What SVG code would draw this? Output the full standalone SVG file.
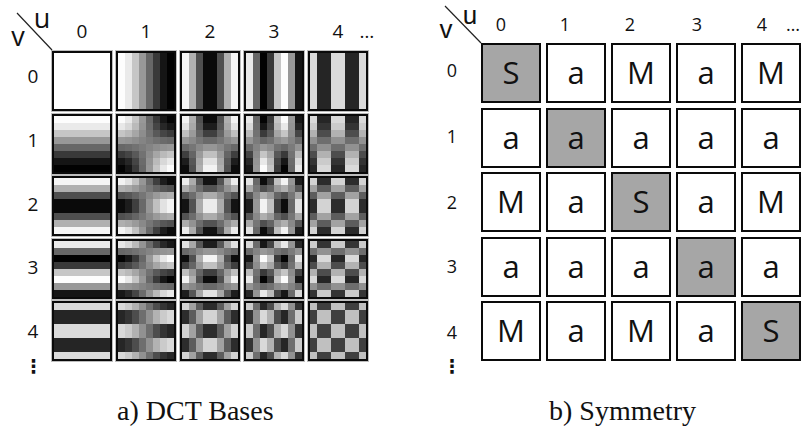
<svg xmlns="http://www.w3.org/2000/svg" xmlns:xlink="http://www.w3.org/1999/xlink" width="804" height="432" viewBox="0 0 804 432">
  <style>
    .lbl { font-family: "Open Sans", "Liberation Sans", sans-serif; fill: #111; }
    .hdr { font-size: 19px; text-anchor: middle; }
    .hdr-r { font-size: 18px; text-anchor: middle; }
    .axis { font-size: 27px; text-anchor: middle; }
    .axis-r { font-family: "Liberation Sans", "Open Sans", sans-serif; font-size: 26px; text-anchor: middle; fill: #111; }
    .dots { font-family: "DejaVu Sans", sans-serif; font-size: 19px; font-weight: bold; text-anchor: middle; fill: #111; }
    .cap { font-family: "Liberation Serif", "Times New Roman", serif; font-size: 28px; fill: #111; }
    .frame { fill: none; stroke: #0a0a0a; stroke-width: 2; }
    .halo { fill: none; stroke: #bdbdbd; stroke-width: 1; }
    .cell { fill: #ffffff; stroke: #0a0a0a; stroke-width: 2; }
    .cell.diag { fill: #a6a6a6; }
    .sym { font-family: "Open Sans", "Liberation Sans", sans-serif; font-size: 31px; text-anchor: middle; fill: #111; }
    .divider { stroke: #222; stroke-width: 1.2; }
    .scr { mix-blend-mode: screen; }
  </style>
  <defs>
    <!-- gray = 0.5 + 0.5*cos_u*cos_v, with cos_u carried in red and cos_v in green as (1+c)/2 -->
    <filter id="prod" x="0" y="0" width="1" height="1" color-interpolation-filters="sRGB">
      <feColorMatrix in="SourceGraphic" type="matrix" values="1 0 0 0 0  1 0 0 0 0  1 0 0 0 0  0 0 0 0 1" result="hu"/>
      <feColorMatrix in="SourceGraphic" type="matrix" values="0 1 0 0 0  0 1 0 0 0  0 1 0 0 0  0 0 0 0 1" result="hv"/>
      <feComposite in="hu" in2="hv" operator="arithmetic" k1="2" k2="-1" k3="-1" k4="1"/>
    </filter>
    <!-- horizontal frequency u: vertical stripes in the red channel (8x8 unit grid) -->
    <g id="cu0"><rect x="0" y="0" width="8" height="8" fill="rgb(255,0,0)"/></g>
    <g id="cu1">
      <rect x="0" y="0" width="1" height="8" fill="rgb(253,0,0)"/>
      <rect x="1" y="0" width="1" height="8" fill="rgb(234,0,0)"/>
      <rect x="2" y="0" width="1" height="8" fill="rgb(198,0,0)"/>
      <rect x="3" y="0" width="1" height="8" fill="rgb(152,0,0)"/>
      <rect x="4" y="0" width="1" height="8" fill="rgb(103,0,0)"/>
      <rect x="5" y="0" width="1" height="8" fill="rgb(57,0,0)"/>
      <rect x="6" y="0" width="1" height="8" fill="rgb(21,0,0)"/>
      <rect x="7" y="0" width="1" height="8" fill="rgb(2,0,0)"/>
    </g>
    <g id="cu2">
      <rect x="0" y="0" width="1" height="8" fill="rgb(245,0,0)"/>
      <rect x="1" y="0" width="1" height="8" fill="rgb(176,0,0)"/>
      <rect x="2" y="0" width="1" height="8" fill="rgb(79,0,0)"/>
      <rect x="3" y="0" width="1" height="8" fill="rgb(10,0,0)"/>
      <rect x="4" y="0" width="1" height="8" fill="rgb(10,0,0)"/>
      <rect x="5" y="0" width="1" height="8" fill="rgb(79,0,0)"/>
      <rect x="6" y="0" width="1" height="8" fill="rgb(176,0,0)"/>
      <rect x="7" y="0" width="1" height="8" fill="rgb(245,0,0)"/>
    </g>
    <g id="cu3">
      <rect x="0" y="0" width="1" height="8" fill="rgb(234,0,0)"/>
      <rect x="1" y="0" width="1" height="8" fill="rgb(103,0,0)"/>
      <rect x="2" y="0" width="1" height="8" fill="rgb(2,0,0)"/>
      <rect x="3" y="0" width="1" height="8" fill="rgb(57,0,0)"/>
      <rect x="4" y="0" width="1" height="8" fill="rgb(198,0,0)"/>
      <rect x="5" y="0" width="1" height="8" fill="rgb(253,0,0)"/>
      <rect x="6" y="0" width="1" height="8" fill="rgb(152,0,0)"/>
      <rect x="7" y="0" width="1" height="8" fill="rgb(21,0,0)"/>
    </g>
    <g id="cu4">
      <rect x="0" y="0" width="1" height="8" fill="rgb(218,0,0)"/>
      <rect x="1" y="0" width="1" height="8" fill="rgb(37,0,0)"/>
      <rect x="2" y="0" width="1" height="8" fill="rgb(37,0,0)"/>
      <rect x="3" y="0" width="1" height="8" fill="rgb(218,0,0)"/>
      <rect x="4" y="0" width="1" height="8" fill="rgb(218,0,0)"/>
      <rect x="5" y="0" width="1" height="8" fill="rgb(37,0,0)"/>
      <rect x="6" y="0" width="1" height="8" fill="rgb(37,0,0)"/>
      <rect x="7" y="0" width="1" height="8" fill="rgb(218,0,0)"/>
    </g>
    <!-- vertical frequency v: horizontal stripes in the green channel -->
    <g id="cv0"><rect x="0" y="0" width="8" height="8" fill="rgb(0,255,0)"/></g>
    <g id="cv1">
      <rect x="0" y="0" width="8" height="1" fill="rgb(0,253,0)"/>
      <rect x="0" y="1" width="8" height="1" fill="rgb(0,234,0)"/>
      <rect x="0" y="2" width="8" height="1" fill="rgb(0,198,0)"/>
      <rect x="0" y="3" width="8" height="1" fill="rgb(0,152,0)"/>
      <rect x="0" y="4" width="8" height="1" fill="rgb(0,103,0)"/>
      <rect x="0" y="5" width="8" height="1" fill="rgb(0,57,0)"/>
      <rect x="0" y="6" width="8" height="1" fill="rgb(0,21,0)"/>
      <rect x="0" y="7" width="8" height="1" fill="rgb(0,2,0)"/>
    </g>
    <g id="cv2">
      <rect x="0" y="0" width="8" height="1" fill="rgb(0,245,0)"/>
      <rect x="0" y="1" width="8" height="1" fill="rgb(0,176,0)"/>
      <rect x="0" y="2" width="8" height="1" fill="rgb(0,79,0)"/>
      <rect x="0" y="3" width="8" height="1" fill="rgb(0,10,0)"/>
      <rect x="0" y="4" width="8" height="1" fill="rgb(0,10,0)"/>
      <rect x="0" y="5" width="8" height="1" fill="rgb(0,79,0)"/>
      <rect x="0" y="6" width="8" height="1" fill="rgb(0,176,0)"/>
      <rect x="0" y="7" width="8" height="1" fill="rgb(0,245,0)"/>
    </g>
    <g id="cv3">
      <rect x="0" y="0" width="8" height="1" fill="rgb(0,234,0)"/>
      <rect x="0" y="1" width="8" height="1" fill="rgb(0,103,0)"/>
      <rect x="0" y="2" width="8" height="1" fill="rgb(0,2,0)"/>
      <rect x="0" y="3" width="8" height="1" fill="rgb(0,57,0)"/>
      <rect x="0" y="4" width="8" height="1" fill="rgb(0,198,0)"/>
      <rect x="0" y="5" width="8" height="1" fill="rgb(0,253,0)"/>
      <rect x="0" y="6" width="8" height="1" fill="rgb(0,152,0)"/>
      <rect x="0" y="7" width="8" height="1" fill="rgb(0,21,0)"/>
    </g>
    <g id="cv4">
      <rect x="0" y="0" width="8" height="1" fill="rgb(0,218,0)"/>
      <rect x="0" y="1" width="8" height="1" fill="rgb(0,37,0)"/>
      <rect x="0" y="2" width="8" height="1" fill="rgb(0,37,0)"/>
      <rect x="0" y="3" width="8" height="1" fill="rgb(0,218,0)"/>
      <rect x="0" y="4" width="8" height="1" fill="rgb(0,218,0)"/>
      <rect x="0" y="5" width="8" height="1" fill="rgb(0,37,0)"/>
      <rect x="0" y="6" width="8" height="1" fill="rgb(0,37,0)"/>
      <rect x="0" y="7" width="8" height="1" fill="rgb(0,218,0)"/>
    </g>
    <!-- frame drawn around each 56x56 basis image -->
    <g id="bframe">
      <rect class="halo" x="-0.5" y="-0.5" width="61" height="61"/>
      <rect class="frame" x="1" y="1" width="58" height="58"/>
    </g>
  </defs>

  <!-- ===== a) DCT bases ===== -->
  <g id="dct-axes">
    <text class="lbl axis" x="18" y="46">v</text>
    <text class="lbl axis" x="42" y="28">u</text>
    <text class="lbl hdr" x="82" y="38">0</text>
    <text class="lbl hdr" x="146" y="38">1</text>
    <text class="lbl hdr" x="210" y="38">2</text>
    <text class="lbl hdr" x="274" y="38">3</text>
    <text class="lbl hdr" x="338" y="38">4</text>
    <text class="lbl hdr" x="367" y="38">…</text>
    <text class="lbl hdr" x="33" y="83">0</text>
    <text class="lbl hdr" x="33" y="147">1</text>
    <text class="lbl hdr" x="33" y="211">2</text>
    <text class="lbl hdr" x="33" y="274">3</text>
    <text class="lbl hdr" x="33" y="338">4</text>
    <text class="dots" x="33.5" y="373">⋮</text>
  </g>

  <!-- row v=0 -->
  <g id="base-v0-u0" transform="translate(52,51)"><g transform="translate(2,2) scale(7)" filter="url(#prod)"><use xlink:href="#cu0"/><g class="scr"><use xlink:href="#cv0"/></g></g><use xlink:href="#bframe"/></g>
  <g id="base-v0-u1" transform="translate(116,51)"><g transform="translate(2,2) scale(7)" filter="url(#prod)"><use xlink:href="#cu1"/><g class="scr"><use xlink:href="#cv0"/></g></g><use xlink:href="#bframe"/></g>
  <g id="base-v0-u2" transform="translate(180,51)"><g transform="translate(2,2) scale(7)" filter="url(#prod)"><use xlink:href="#cu2"/><g class="scr"><use xlink:href="#cv0"/></g></g><use xlink:href="#bframe"/></g>
  <g id="base-v0-u3" transform="translate(244,51)"><g transform="translate(2,2) scale(7)" filter="url(#prod)"><use xlink:href="#cu3"/><g class="scr"><use xlink:href="#cv0"/></g></g><use xlink:href="#bframe"/></g>
  <g id="base-v0-u4" transform="translate(308,51)"><g transform="translate(2,2) scale(7)" filter="url(#prod)"><use xlink:href="#cu4"/><g class="scr"><use xlink:href="#cv0"/></g></g><use xlink:href="#bframe"/></g>
  <!-- row v=1 -->
  <g id="base-v1-u0" transform="translate(52,114)"><g transform="translate(2,2) scale(7)" filter="url(#prod)"><use xlink:href="#cu0"/><g class="scr"><use xlink:href="#cv1"/></g></g><use xlink:href="#bframe"/></g>
  <g id="base-v1-u1" transform="translate(116,114)"><g transform="translate(2,2) scale(7)" filter="url(#prod)"><use xlink:href="#cu1"/><g class="scr"><use xlink:href="#cv1"/></g></g><use xlink:href="#bframe"/></g>
  <g id="base-v1-u2" transform="translate(180,114)"><g transform="translate(2,2) scale(7)" filter="url(#prod)"><use xlink:href="#cu2"/><g class="scr"><use xlink:href="#cv1"/></g></g><use xlink:href="#bframe"/></g>
  <g id="base-v1-u3" transform="translate(244,114)"><g transform="translate(2,2) scale(7)" filter="url(#prod)"><use xlink:href="#cu3"/><g class="scr"><use xlink:href="#cv1"/></g></g><use xlink:href="#bframe"/></g>
  <g id="base-v1-u4" transform="translate(308,114)"><g transform="translate(2,2) scale(7)" filter="url(#prod)"><use xlink:href="#cu4"/><g class="scr"><use xlink:href="#cv1"/></g></g><use xlink:href="#bframe"/></g>
  <!-- row v=2 -->
  <g id="base-v2-u0" transform="translate(52,176)"><g transform="translate(2,2) scale(7)" filter="url(#prod)"><use xlink:href="#cu0"/><g class="scr"><use xlink:href="#cv2"/></g></g><use xlink:href="#bframe"/></g>
  <g id="base-v2-u1" transform="translate(116,176)"><g transform="translate(2,2) scale(7)" filter="url(#prod)"><use xlink:href="#cu1"/><g class="scr"><use xlink:href="#cv2"/></g></g><use xlink:href="#bframe"/></g>
  <g id="base-v2-u2" transform="translate(180,176)"><g transform="translate(2,2) scale(7)" filter="url(#prod)"><use xlink:href="#cu2"/><g class="scr"><use xlink:href="#cv2"/></g></g><use xlink:href="#bframe"/></g>
  <g id="base-v2-u3" transform="translate(244,176)"><g transform="translate(2,2) scale(7)" filter="url(#prod)"><use xlink:href="#cu3"/><g class="scr"><use xlink:href="#cv2"/></g></g><use xlink:href="#bframe"/></g>
  <g id="base-v2-u4" transform="translate(308,176)"><g transform="translate(2,2) scale(7)" filter="url(#prod)"><use xlink:href="#cu4"/><g class="scr"><use xlink:href="#cv2"/></g></g><use xlink:href="#bframe"/></g>
  <!-- row v=3 -->
  <g id="base-v3-u0" transform="translate(52,239)"><g transform="translate(2,2) scale(7)" filter="url(#prod)"><use xlink:href="#cu0"/><g class="scr"><use xlink:href="#cv3"/></g></g><use xlink:href="#bframe"/></g>
  <g id="base-v3-u1" transform="translate(116,239)"><g transform="translate(2,2) scale(7)" filter="url(#prod)"><use xlink:href="#cu1"/><g class="scr"><use xlink:href="#cv3"/></g></g><use xlink:href="#bframe"/></g>
  <g id="base-v3-u2" transform="translate(180,239)"><g transform="translate(2,2) scale(7)" filter="url(#prod)"><use xlink:href="#cu2"/><g class="scr"><use xlink:href="#cv3"/></g></g><use xlink:href="#bframe"/></g>
  <g id="base-v3-u3" transform="translate(244,239)"><g transform="translate(2,2) scale(7)" filter="url(#prod)"><use xlink:href="#cu3"/><g class="scr"><use xlink:href="#cv3"/></g></g><use xlink:href="#bframe"/></g>
  <g id="base-v3-u4" transform="translate(308,239)"><g transform="translate(2,2) scale(7)" filter="url(#prod)"><use xlink:href="#cu4"/><g class="scr"><use xlink:href="#cv3"/></g></g><use xlink:href="#bframe"/></g>
  <!-- row v=4 -->
  <g id="base-v4-u0" transform="translate(52,301)"><g transform="translate(2,2) scale(7)" filter="url(#prod)"><use xlink:href="#cu0"/><g class="scr"><use xlink:href="#cv4"/></g></g><use xlink:href="#bframe"/></g>
  <g id="base-v4-u1" transform="translate(116,301)"><g transform="translate(2,2) scale(7)" filter="url(#prod)"><use xlink:href="#cu1"/><g class="scr"><use xlink:href="#cv4"/></g></g><use xlink:href="#bframe"/></g>
  <g id="base-v4-u2" transform="translate(180,301)"><g transform="translate(2,2) scale(7)" filter="url(#prod)"><use xlink:href="#cu2"/><g class="scr"><use xlink:href="#cv4"/></g></g><use xlink:href="#bframe"/></g>
  <g id="base-v4-u3" transform="translate(244,301)"><g transform="translate(2,2) scale(7)" filter="url(#prod)"><use xlink:href="#cu3"/><g class="scr"><use xlink:href="#cv4"/></g></g><use xlink:href="#bframe"/></g>
  <g id="base-v4-u4" transform="translate(308,301)"><g transform="translate(2,2) scale(7)" filter="url(#prod)"><use xlink:href="#cu4"/><g class="scr"><use xlink:href="#cv4"/></g></g><use xlink:href="#bframe"/></g>

  <!-- ===== b) Symmetry ===== -->
  <g id="sym-axes">
    <text class="axis-r" x="446" y="38">v</text>
    <text class="axis-r" x="470" y="24">u</text>
    <text class="lbl hdr-r" x="501" y="31">0</text>
    <text class="lbl hdr-r" x="565" y="31">1</text>
    <text class="lbl hdr-r" x="630" y="31">2</text>
    <text class="lbl hdr-r" x="697" y="31">3</text>
    <text class="lbl hdr-r" x="762" y="31">4</text>
    <text class="lbl hdr-r" x="793" y="31">…</text>
    <text class="lbl hdr-r" x="452" y="77">0</text>
    <text class="lbl hdr-r" x="452" y="143">1</text>
    <text class="lbl hdr-r" x="452" y="209">2</text>
    <text class="lbl hdr-r" x="452" y="273">3</text>
    <text class="lbl hdr-r" x="452" y="339">4</text>
    <text class="dots" x="452" y="373">⋮</text>
  </g>

  <!-- row 0 -->
  <g id="sym-v0-u0"><rect class="cell diag" x="482" y="44" width="58" height="58"/><text class="sym" x="511" y="84">S</text></g>
  <g id="sym-v0-u1"><rect class="cell" x="547" y="44" width="58" height="58"/><text class="sym" x="576" y="84">a</text></g>
  <g id="sym-v0-u2"><rect class="cell" x="612" y="44" width="58" height="58"/><text class="sym" x="641" y="84">M</text></g>
  <g id="sym-v0-u3"><rect class="cell" x="677" y="44" width="58" height="58"/><text class="sym" x="706" y="84">a</text></g>
  <g id="sym-v0-u4"><rect class="cell" x="742" y="44" width="58" height="58"/><text class="sym" x="771" y="84">M</text></g>
  <!-- row 1 -->
  <g id="sym-v1-u0"><rect class="cell" x="482" y="109" width="58" height="58"/><text class="sym" x="511" y="149">a</text></g>
  <g id="sym-v1-u1"><rect class="cell diag" x="547" y="109" width="58" height="58"/><text class="sym" x="576" y="149">a</text></g>
  <g id="sym-v1-u2"><rect class="cell" x="612" y="109" width="58" height="58"/><text class="sym" x="641" y="149">a</text></g>
  <g id="sym-v1-u3"><rect class="cell" x="677" y="109" width="58" height="58"/><text class="sym" x="706" y="149">a</text></g>
  <g id="sym-v1-u4"><rect class="cell" x="742" y="109" width="58" height="58"/><text class="sym" x="771" y="149">a</text></g>
  <!-- row 2 -->
  <g id="sym-v2-u0"><rect class="cell" x="482" y="173" width="58" height="58"/><text class="sym" x="511" y="213">M</text></g>
  <g id="sym-v2-u1"><rect class="cell" x="547" y="173" width="58" height="58"/><text class="sym" x="576" y="213">a</text></g>
  <g id="sym-v2-u2"><rect class="cell diag" x="612" y="173" width="58" height="58"/><text class="sym" x="641" y="213">S</text></g>
  <g id="sym-v2-u3"><rect class="cell" x="677" y="173" width="58" height="58"/><text class="sym" x="706" y="213">a</text></g>
  <g id="sym-v2-u4"><rect class="cell" x="742" y="173" width="58" height="58"/><text class="sym" x="771" y="213">M</text></g>
  <!-- row 3 -->
  <g id="sym-v3-u0"><rect class="cell" x="482" y="238" width="58" height="58"/><text class="sym" x="511" y="278">a</text></g>
  <g id="sym-v3-u1"><rect class="cell" x="547" y="238" width="58" height="58"/><text class="sym" x="576" y="278">a</text></g>
  <g id="sym-v3-u2"><rect class="cell" x="612" y="238" width="58" height="58"/><text class="sym" x="641" y="278">a</text></g>
  <g id="sym-v3-u3"><rect class="cell diag" x="677" y="238" width="58" height="58"/><text class="sym" x="706" y="278">a</text></g>
  <g id="sym-v3-u4"><rect class="cell" x="742" y="238" width="58" height="58"/><text class="sym" x="771" y="278">a</text></g>
  <!-- row 4 -->
  <g id="sym-v4-u0"><rect class="cell" x="482" y="302" width="58" height="58"/><text class="sym" x="511" y="342">M</text></g>
  <g id="sym-v4-u1"><rect class="cell" x="547" y="302" width="58" height="58"/><text class="sym" x="576" y="342">a</text></g>
  <g id="sym-v4-u2"><rect class="cell" x="612" y="302" width="58" height="58"/><text class="sym" x="641" y="342">M</text></g>
  <g id="sym-v4-u3"><rect class="cell" x="677" y="302" width="58" height="58"/><text class="sym" x="706" y="342">a</text></g>
  <g id="sym-v4-u4"><rect class="cell diag" x="742" y="302" width="58" height="58"/><text class="sym" x="771" y="342">S</text></g>

  <!-- corner dividers between the u and v axis labels -->
  <g id="connectors">
    <line class="divider" x1="17" y1="13" x2="52" y2="50"/>
    <line class="divider" x1="445" y1="6" x2="481" y2="43"/>
  </g>

  <g id="captions">
    <text class="cap" x="117" y="420">a) DCT Bases</text>
    <text class="cap" x="549" y="420">b) Symmetry</text>
  </g>
</svg>
